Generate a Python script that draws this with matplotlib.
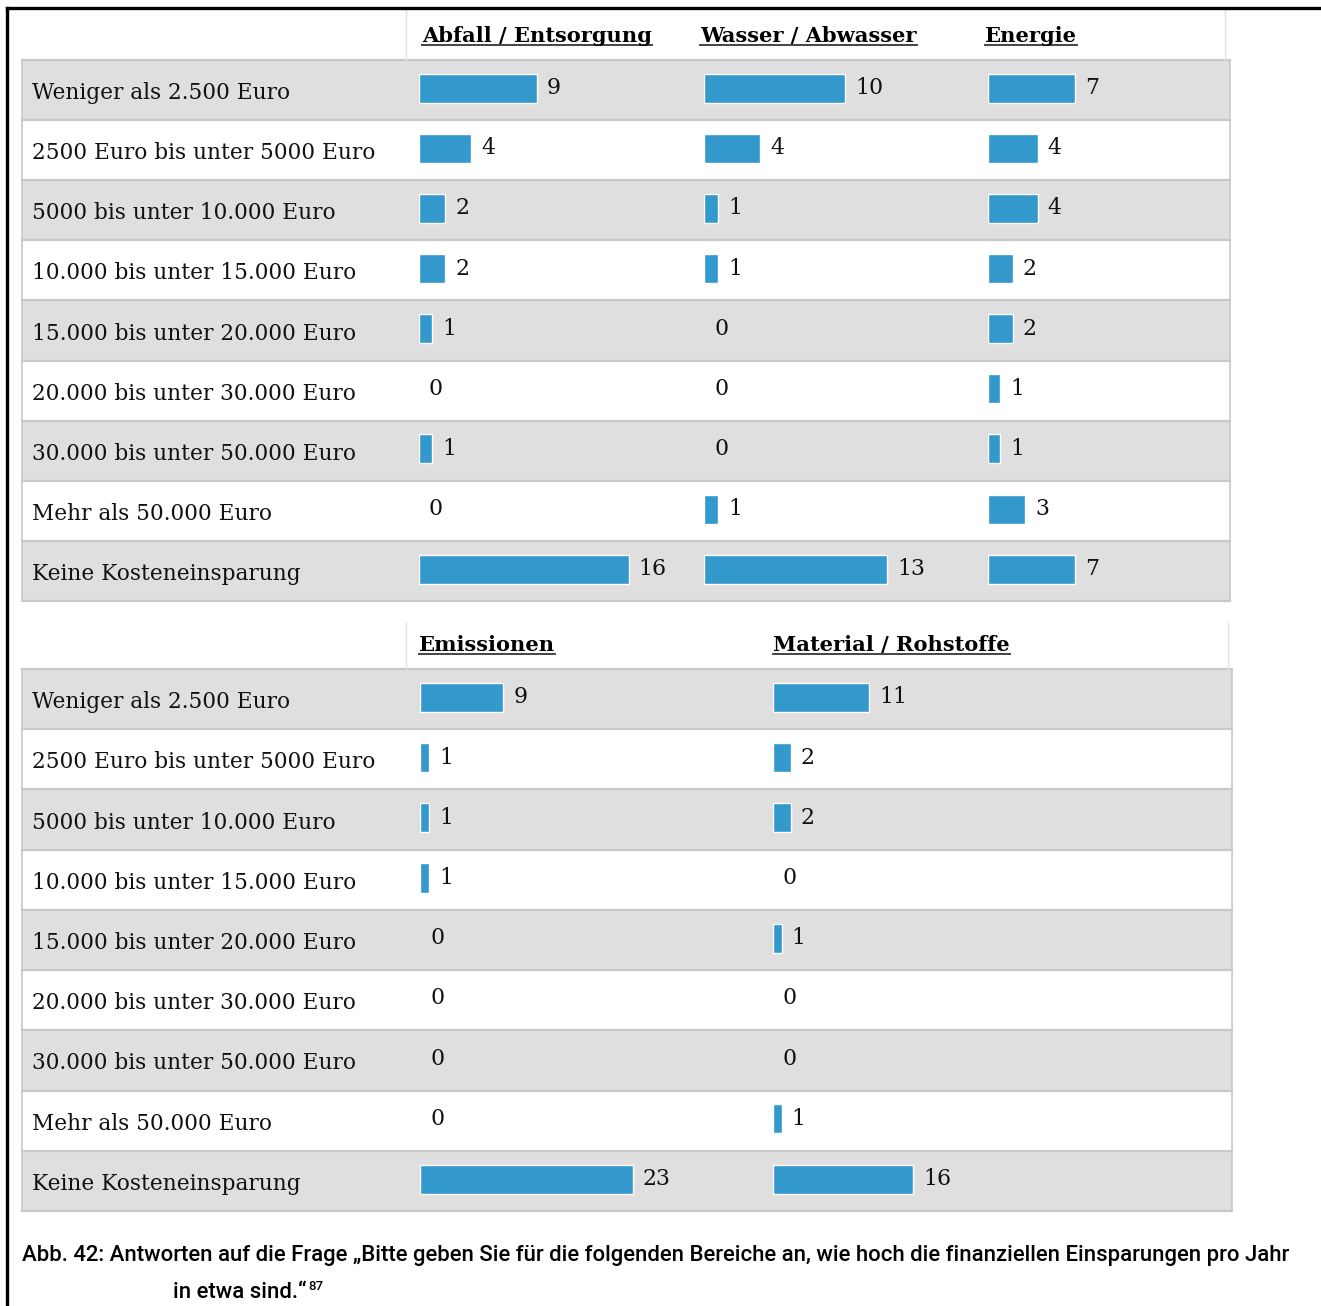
import numpy as np
import matplotlib.pyplot as plt
from matplotlib.lines import Line2D

# Antwortkategorien (Zeilen) und Anzahl der Nennungen je Bereich
kategorien = [
    "Weniger als 2.500 Euro",
    "2500 Euro bis unter 5000 Euro",
    "5000 bis unter 10.000 Euro",
    "10.000 bis unter 15.000 Euro",
    "15.000 bis unter 20.000 Euro",
    "20.000 bis unter 30.000 Euro",
    "30.000 bis unter 50.000 Euro",
    "Mehr als 50.000 Euro",
    "Keine Kosteneinsparung",
]
abfall = [9, 4, 2, 2, 1, 0, 1, 0, 16]
wasser = [10, 4, 1, 1, 0, 0, 0, 1, 13]
energie = [7, 4, 4, 2, 2, 1, 1, 3, 7]
emissionen = [9, 1, 1, 1, 0, 0, 0, 0, 23]
material = [11, 2, 2, 0, 1, 0, 0, 1, 16]

caption_1 = ("Abb. 42: Antworten auf die Frage \u201eBitte geben Sie f\u00fcr die folgenden "
             "Bereiche an, wie hoch die finanziellen Einsparungen pro Jahr")
caption_2 = "in etwa sind.\u201c"
fussnote = "87"

W, H = 1321, 1306
BLUE = "#3399cc"
GRAY = "#dfdfdf"
LINE = "#c8c8c8"
SERIF = ["DejaVu Serif"]
NARROW = ["Roboto", "DejaVu Sans"]

fig = plt.figure(figsize=(W / 100, H / 100), dpi=100)


def rect(x0, y0, x1, y1):
    # pixel box (origin top left) -> figure fraction
    return [x0 / W, 1 - y1 / H, (x1 - x0) / W, (y1 - y0) / H]


def fline(xs, ys, **kw):
    fig.add_artist(Line2D([x / W for x in xs], [1 - y / H for y in ys],
                          transform=fig.transFigure, **kw))


headers = []


def tabelle(top, bottom, right, head_top, spalten, head_right):
    n = len(kategorien)
    bg = fig.add_axes(rect(22, top, right, bottom))
    bg.set_xlim(0, right - 22)
    bg.set_ylim(n, 0)
    bg.axis("off")
    for i in range(n):
        if i % 2 == 0:
            bg.axhspan(i, i + 1, color=GRAY, lw=0)
        bg.text(10, i + 0.55, kategorien[i], va="center", ha="left",
                family=SERIF, fontsize=15.6, color="#111111")
    for i in range(n + 1):
        bg.axhline(i, color=LINE, lw=1.6, clip_on=False)
    bg.axvline(0, color=LINE, lw=1.2, clip_on=False)
    bg.axvline(right - 22, color=LINE, lw=1.2, clip_on=False)

    # Kopfzeile: feine Trennlinien
    fline([406, 406], [head_top, top], color="#e4e4e4", lw=1)
    fline([head_right, head_right], [head_top, top], color="#e4e4e4", lw=1)

    for name, werte, x0, ppu, hx in spalten:
        span = 300
        ax = fig.add_axes(rect(x0, top, x0 + span, bottom))
        ax.set_xlim(0, span / ppu)
        ax.set_ylim(n - 0.5, -0.5)
        ax.axis("off")
        y = np.arange(n) - 0.03
        ax.barh(y, werte, height=29 / 60, color=BLUE, edgecolor="white",
                lw=[1 if v else 0 for v in werte])
        for yi, v in zip(y, werte):
            ax.text(v + 10 / ppu, yi, str(v), va="center", ha="left",
                    family=SERIF, fontsize=15.8, color="#111111")
        t = fig.text(hx / W, 1 - (top - 18) / H, name, family=SERIF,
                     fontsize=15.1, fontweight="bold", va="baseline", ha="left")
        headers.append((t, top - 15))


tabelle(60, 601, 1230, 10,
        [("Abfall / Entsorgung", abfall, 419, 13.1, 422),
         ("Wasser / Abwasser", wasser, 704, 14.1, 700),
         ("Energie", energie, 988, 12.4, 985)], 1225)

tabelle(669, 1211, 1232, 622,
        [("Emissionen", emissionen, 420, 9.25, 419),
         ("Material / Rohstoffe", material, 773, 8.75, 773)], 1228)

# Rahmen oben und links
fline([7, W], [8, 8], color="black", lw=2.4)
fline([7, 7], [8, H], color="black", lw=2.4)

# Bildunterschrift
fig.text(22 / W, 1 - 1255 / H, caption_1, family=NARROW, fontsize=15.95,
         fontweight="medium", va="center", ha="left", color="black")
c2 = fig.text(173 / W, 1 - 1293 / H, caption_2, family=NARROW, fontsize=15.95,
              fontweight="medium", va="center", ha="left", color="black")

fig.canvas.draw()
r = fig.canvas.get_renderer()

# Unterstreichung der Spaltenköpfe
for t, uy in headers:
    bb = t.get_window_extent(r)
    fline([bb.x0, bb.x1], [uy, uy], color="#444444", lw=1.4)

bb = c2.get_window_extent(r)
fig.text(bb.x1 / W + 2 / W, 1 - 1286 / H, fussnote, family=NARROW, fontsize=9.5,
         fontweight="medium", va="center", ha="left", color="black")

fig.savefig("out.png", dpi=100, facecolor="white")
